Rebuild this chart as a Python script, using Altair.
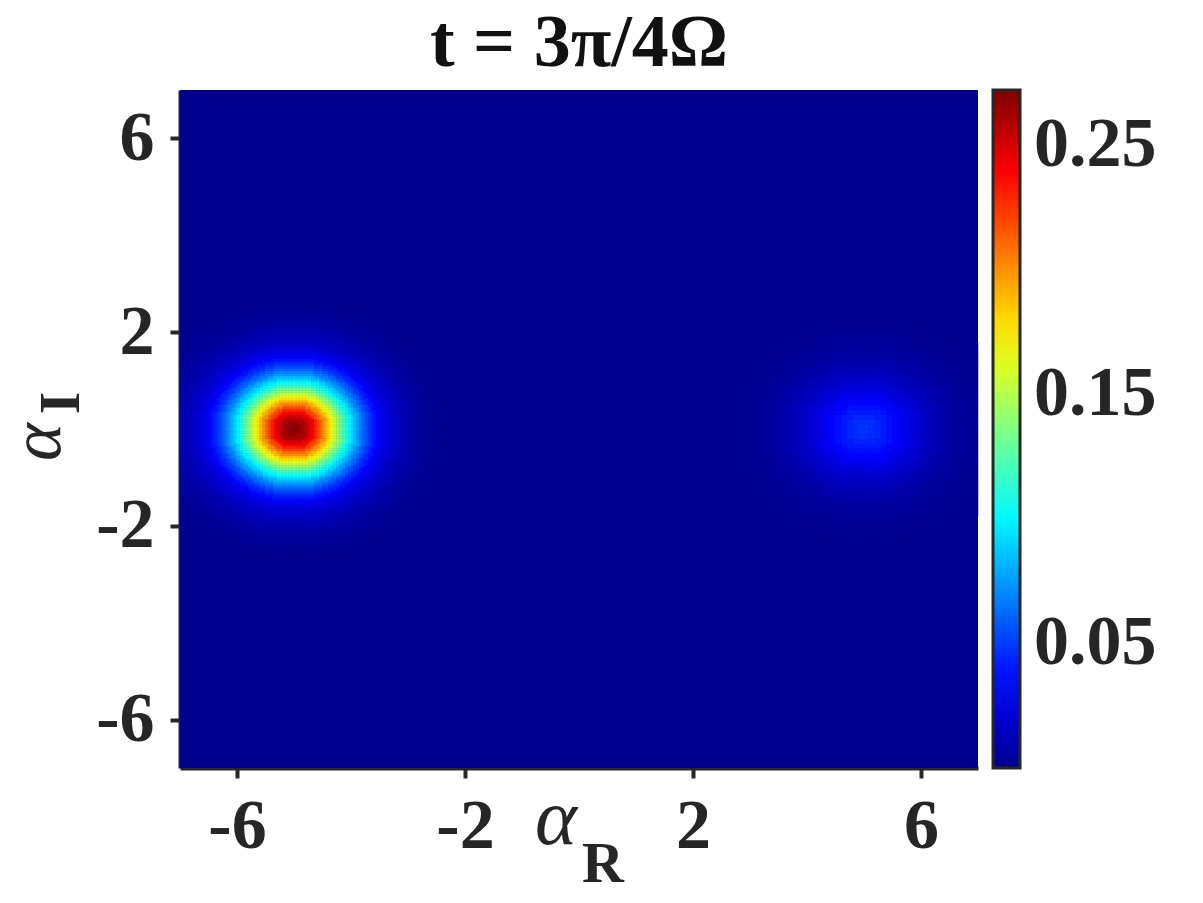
import altair as alt
import pandas as pd
import numpy as np

alt.data_transformers.disable_max_rows()

# ---- data ----
# Radial profile of each lobe: value vs distance from its centre
left_center = (-5.0, 0.0)
left_step = 0.05
left_profile = [0.270, 0.269, 0.267, 0.264, 0.259, 0.254, 0.247, 0.239, 0.230, 0.220,
                0.210, 0.199, 0.188, 0.177, 0.165, 0.154, 0.142, 0.131, 0.120, 0.110,
                0.100, 0.092, 0.084, 0.076, 0.068, 0.061, 0.055, 0.049, 0.044, 0.039,
                0.034, 0.030, 0.027, 0.024, 0.021, 0.019, 0.017, 0.015, 0.013, 0.0115,
                0.010, 0.009, 0.008, 0.0068, 0.0059, 0.005, 0.0043, 0.0036, 0.003,
                0.0025, 0.002, 0.0016, 0.0012, 0.0009, 0.0007, 0.0005]
right_center = (5.0, 0.0)
right_step = 0.1
right_profile = [0.048, 0.0475, 0.046, 0.044, 0.041, 0.038, 0.035, 0.031, 0.027,
                 0.023, 0.020, 0.017, 0.014, 0.0115, 0.0095, 0.0077, 0.0062, 0.005,
                 0.004, 0.003, 0.0024, 0.0018, 0.0013, 0.0009, 0.0006, 0.0004, 0.0002]

x_ticks = [-6, -2, 2, 6]
y_ticks = [-6, -2, 2, 6]
cbar_ticks = [0.05, 0.15, 0.25]
axis_min, axis_max = -7, 7
cmax = 0.272
jet_colors = ["#00008F", "#0000FF", "#0080FF", "#00FFFF", "#80FF80",
              "#FFFF00", "#FF8000", "#FF0000", "#800000"]

# ---- build cell table ----
rows = []
for (cx, cy), prof, step in [(left_center, left_profile, left_step),
                             (right_center, right_profile, right_step)]:
    n = int(round((axis_max - axis_min) / step))
    for i in range(n):
        x0 = axis_min + i * step
        for j in range(n):
            y0 = axis_min + j * step
            d = np.hypot(x0 + step / 2 - cx, y0 + step / 2 - cy)
            k = int(round(d / step))
            if k < len(prof):
                rows.append({"x": round(x0, 3), "x2": round(x0 + step, 3),
                             "y": round(y0, 3), "y2": round(y0 + step, 3), "v": prof[k]})
cells = pd.DataFrame(rows)
bg = pd.DataFrame([{"x": axis_min, "x2": axis_max, "y": axis_min, "y2": axis_max, "v": 0.0}])

dom = [cmax * k / 8 for k in range(9)]
cscale = alt.Scale(domain=dom, range=jet_colors, interpolate="rgb")

xs = alt.Scale(domain=[axis_min, axis_max], nice=False, zero=False)
ys = alt.Scale(domain=[axis_min, axis_max], nice=False, zero=False)

FONT = "Liberation Serif"
INK = "#262626"
LBL = "datum.value < 0 ? '-' + abs(datum.value) : '' + datum.value"

base_x = alt.X("x:Q", scale=xs, axis=alt.Axis(values=x_ticks, title=None,
                                              labelPadding=14, labelExpr=LBL))
base_y = alt.Y("y:Q", scale=ys, axis=alt.Axis(values=y_ticks, title=None,
                                              labelPadding=16, labelExpr=LBL))

background = alt.Chart(bg).mark_rect().encode(
    x=base_x, x2="x2:Q", y=base_y, y2="y2:Q",
    color=alt.Color("v:Q", scale=cscale,
                    legend=alt.Legend(values=cbar_ticks, format=".2f", title=None,
                                      orient="none", legendX=813, legendY=0,
                                      direction="vertical",
                                      gradientLength=678, gradientThickness=27,
                                      gradientStrokeColor=INK, gradientStrokeWidth=3,
                                      labelFont=FONT, labelFontWeight="bold",
                                      labelFontSize=70, labelColor=INK,
                                      labelOffset=14, padding=0)),
)

heat = alt.Chart(cells).mark_rect(strokeWidth=0.5).encode(
    x="x:Q", x2="x2:Q", y="y:Q", y2="y2:Q",
    color=alt.Color("v:Q", scale=cscale, legend=None),
    stroke=alt.Stroke("v:Q", scale=cscale, legend=None),
)

def label(txt, x, y, size, style="normal", weight="normal", angle=0):
    return alt.Chart(pd.DataFrame({"t": [txt]})).mark_text(
        font=FONT, fontSize=size, fontStyle=style, fontWeight=weight,
        color=INK, angle=angle, align="center", baseline="middle"
    ).encode(text="t:N", x=alt.value(x), y=alt.value(y))

x_alpha = label("α", 376, 730, 80, style="italic")
x_sub = label("R", 423, 775, 58, weight="bold")
y_alpha = label("α", -142, 352, 72, style="italic", angle=270)
y_sub = label("I", -118, 313, 58, weight="bold", angle=270)

chart = alt.layer(background, heat, x_alpha, x_sub, y_alpha, y_sub).resolve_scale(
    color="shared", stroke="independent"
).properties(
    width=798, height=678,
    title=alt.TitleParams("t = 3π/4Ω", font=FONT, fontSize=74, fontWeight="bold",
                          color="#111111", anchor="middle", offset=8),
    autosize=alt.AutoSizeParams(type="none"),
    padding={"left": 180, "top": 90, "right": 225, "bottom": 135},
).configure_view(stroke=None).configure_axis(
    labelFont=FONT, labelFontWeight="bold", labelFontSize=70, labelColor=INK,
    domainColor=INK, domainWidth=4, tickColor=INK, tickWidth=4, tickSize=10,
    grid=False,
)

chart.save("out.html", embed_options={"renderer": "svg", "actions": False})
